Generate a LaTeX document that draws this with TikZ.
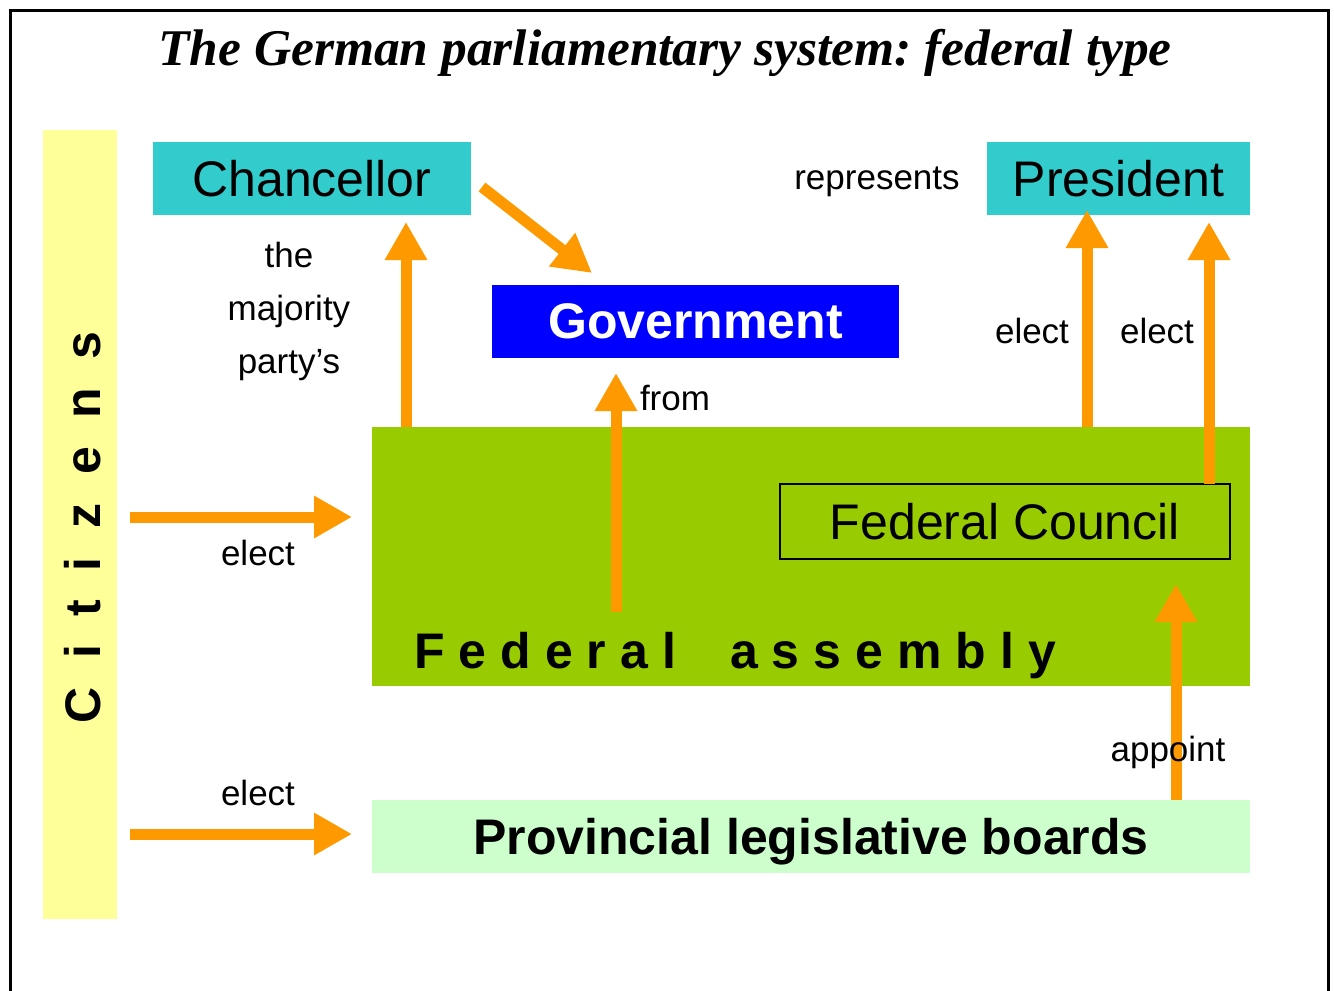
\documentclass[tikz,border=0pt]{standalone}
\usepackage{fontspec}
\setmainfont{Liberation Sans}
\newfontfamily\titlefont{Liberation Serif}
\usetikzlibrary{arrows.meta,calc}
\frenchspacing
\definecolor{orng}{HTML}{FF9900}
\definecolor{asmgreen}{HTML}{99CC00}
\definecolor{cyanbox}{HTML}{33CCCC}
\definecolor{govblue}{HTML}{0000FF}
\definecolor{cityellow}{HTML}{FFFF99}
\definecolor{provgreen}{HTML}{CCFFCC}
\newcommand{\gapA}{\hspace{10.5pt}}
\newcommand{\gapB}{\hspace{21.5pt}}
\newcommand{\bigtxt}{\fontsize{37.5pt}{40pt}\selectfont}
\newcommand{\smalltxt}{\fontsize{26.25pt}{30pt}\selectfont}
\begin{document}
\begin{tikzpicture}[x=0.75pt,y=-0.75pt,
  box/.style={inner sep=0pt,outer sep=0pt,draw=none},
  arr/.style={draw=orng,line width=8.25pt,-{Triangle[width=30pt,length=28.5pt]}},
  lbl/.style={anchor=base,inner sep=0pt,font=\smalltxt}]
\useasboundingbox (0,0) rectangle (1334,990);
% frame
\draw[line width=2.25pt] (10,992) -- (10,10) -- (1328,10) -- (1328,992);
% title
\node[anchor=base,inner sep=0pt] (title) at (665,65)
  {\titlefont\bfseries\itshape\fontsize{38.6pt}{41pt}\selectfont The German parliamentary system: federal type};
% boxes
\node[box,fill=cityellow,minimum width=55.5pt,minimum height=591.75pt] (cit) at (80,524.5) {};
\node[box,fill=cyanbox,minimum width=238.5pt,minimum height=54.75pt,font=\bigtxt] (chan) at (312,178.5) {Chancellor};
\node[box,fill=cyanbox,minimum width=197.25pt,minimum height=54.75pt,font=\bigtxt] (pres) at (1118.5,178.5) {President};
\node[box,fill=govblue,text=white,minimum width=305.25pt,minimum height=54.75pt,font=\bigtxt\bfseries] (gov) at (695.5,321.5) {Government};
\node[box,fill=asmgreen,minimum width=658.5pt,minimum height=194.25pt] (asm) at (811,556.5) {};
\node[box,draw=black,line width=1pt,minimum width=337.5pt,minimum height=56.25pt,font=\bigtxt] (fc) at (1005,521.5) {Federal Council};
\node[box,fill=provgreen,minimum width=658.5pt,minimum height=54.75pt,text depth=0pt,font=\bigtxt\bfseries] (prov) at (811,836.5) {Provincial legislative boards};
% spaced texts
\node[rotate=90,anchor=base west,inner sep=0pt,font=\bigtxt\bfseries] (citt) at (100,724)
  {C\gapB i\gapB t\gapB i\gapB z\gapB e\gapB n\gapB s};
\node[anchor=base west,inner sep=0pt,font=\bigtxt\bfseries] (asmt) at (414,668)
  {F\gapA e\gapA d\gapA e\gapA r\gapA a\gapA l\hspace{40.5pt}a\gapA s\gapA s\gapA e\gapA m\gapA b\gapA l\gapA y};
% column / row helpers
\coordinate (c406) at (406,0);
\coordinate (c616) at (616,0);
\coordinate (c1087) at (1087,0);
\coordinate (c1209) at (1209,0);
\coordinate (c1176) at (1176,0);
\coordinate (r517) at (0,517);
\coordinate (r834) at (0,834);
% arrows
\draw[arr] (asm.north -| c406) -- ($(chan.south -| c406)+(0,7)$);
\draw[arr] ($(chan.east)+(11,8.5)$) -- ($(gov.north west)+(100,-12)$);
\draw[arr] ($(asm.north -| c616)+(0,185)$) -- ($(gov.south -| c616)+(0,15)$);
\draw[arr] (asm.north -| c1087) -- ($(pres.south -| c1087)+(0,-5)$);
\draw[arr] (fc.north -| c1209) -- ($(pres.south -| c1209)+(0,7)$);
\draw[arr] (prov.north -| c1176) -- ($(fc.south -| c1176)+(0,25)$);
\draw[arr] ($(cit.east |- r517)+(13,0)$) -- ($(asm.west |- r517)+(-20,0)$);
\draw[arr] ($(cit.east |- r834)+(13,0)$) -- ($(asm.west |- r834)+(-20,0)$);
% labels
\node[lbl] (l1) at (289,267) {the};
\node[lbl] (l2) at (289,320) {majority};
\node[lbl] (l3) at (289,373) {party’s};
\node[lbl] (lrep) at (877,189) {represents};
\node[lbl] (le1) at (1032,343) {elect};
\node[lbl] (le2) at (1157,343) {elect};
\node[lbl] (lfrom) at (675,410) {from};
\node[lbl] (le3) at (258,565) {elect};
\node[lbl] (le4) at (258,805) {elect};
\node[lbl] (lapp) at (1168,761) {appoint};
\end{tikzpicture}
\end{document}
